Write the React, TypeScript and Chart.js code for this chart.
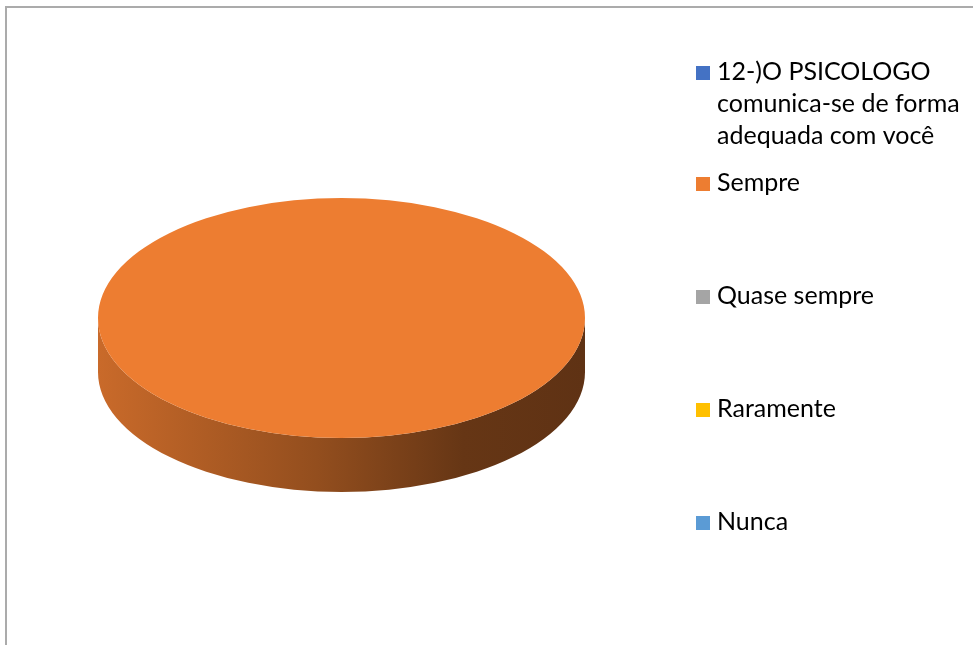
import { useEffect, useRef } from "react";
import { Chart, registerables } from "chart.js";

Chart.register(...registerables);

// ---- data ----
const categories: string[] = [
  "12-)O PSICOLOGO comunica-se de forma adequada com você",
  "Sempre",
  "Quase sempre",
  "Raramente",
  "Nunca",
];
const values: number[] = [0, 100, 0, 0, 0];
const colors: string[] = ["#4472C4", "#ED7D31", "#A5A5A5", "#FFC000", "#5B9BD5"];

// ---- style constants ----
const W = 973;
const H = 645;
const TILT = 120 / 243.5;
const DEPTH = 54;
const FONT = '25px "Lato", "Open Sans", sans-serif';

function shade(hex: string, f: number): string {
  const n = parseInt(hex.slice(1), 16);
  const r = Math.round(((n >> 16) & 255) * f);
  const g = Math.round(((n >> 8) & 255) * f);
  const b = Math.round((n & 255) * f);
  return `rgb(${r},${g},${b})`;
}

const pie3d = {
  id: "pie3d",
  beforeDatasetsDraw(chart: any) {
    const ctx: CanvasRenderingContext2D = chart.ctx;
    const meta = chart.getDatasetMeta(0);
    let cx = 0;
    let cy = 0;
    meta.data.forEach((arc: any, i: number) => {
      const p = arc.getProps(["x", "y", "outerRadius", "startAngle", "endAngle"], true);
      cx = p.x;
      cy = p.y;
      if (p.endAngle - p.startAngle <= 0) return;
      const rx = p.outerRadius;
      const ry = p.outerRadius * TILT;
      const base = colors[i % colors.length];
      const grad = ctx.createLinearGradient(p.x - rx, 0, p.x + rx, 0);
      grad.addColorStop(0, shade(base, 0.85));
      grad.addColorStop(0.45, shade(base, 0.62));
      grad.addColorStop(0.75, shade(base, 0.43));
      grad.addColorStop(1, shade(base, 0.4));
      for (let k = -1; k <= 2; k++) {
        const lo = Math.max(p.startAngle, 2 * Math.PI * k);
        const hi = Math.min(p.endAngle, 2 * Math.PI * k + Math.PI);
        if (hi <= lo) continue;
        ctx.beginPath();
        ctx.ellipse(p.x, p.y + DEPTH, rx, ry, 0, lo, hi, false);
        ctx.ellipse(p.x, p.y, rx, ry, 0, hi, lo, true);
        ctx.closePath();
        ctx.fillStyle = grad;
        ctx.fill();
      }
    });
    ctx.save();
    ctx.translate(cx, cy);
    ctx.scale(1, TILT);
    ctx.translate(-cx, -cy);
  },
  afterDatasetsDraw(chart: any) {
    chart.ctx.restore();
  },
  afterDraw(chart: any) {
    const ctx: CanvasRenderingContext2D = chart.ctx;
    ctx.save();
    // chart frame
    ctx.strokeStyle = "#ababab";
    ctx.lineWidth = 2;
    ctx.strokeRect(6, 7, W + 20, H + 20);
    // legend
    ctx.font = FONT;
    ctx.textBaseline = "middle";
    ctx.textAlign = "left";
    const textX = 717;
    const boxX = 696;
    const box = 14;
    const lineH = 32;
    const maxW = 252;
    categories.forEach((label, i) => {
      const words = label.split(" ");
      const lines: string[] = [];
      let cur = "";
      words.forEach((w) => {
        const test = cur ? cur + " " + w : w;
        if (ctx.measureText(test).width > maxW && cur) {
          lines.push(cur);
          cur = w;
        } else cur = test;
      });
      if (cur) lines.push(cur);
      const yc = i === 0 ? 72 : 183 + (i - 1) * 113;
      ctx.fillStyle = colors[i % colors.length];
      ctx.fillRect(boxX, yc - box / 2 + 1, box, box);
      ctx.fillStyle = "#000000";
      lines.forEach((ln, j) => ctx.fillText(ln, textX, yc + j * lineH));
    });
    ctx.restore();
  },
};

export default function App() {
  const ref = useRef<HTMLCanvasElement | null>(null);
  useEffect(() => {
    if (!ref.current) return;
    const chart = new Chart(ref.current, {
      type: "pie",
      data: {
        labels: categories,
        datasets: [
          {
            data: values,
            backgroundColor: colors,
            borderWidth: 0,
            hoverOffset: 0,
            offset: 0,
          } as any,
        ],
      },
      options: {
        responsive: false,
        animation: false,
        events: [],
        layout: { padding: { left: 98, right: 388, top: 74.5, bottom: 83.5 } },
        plugins: {
          legend: { display: false },
          tooltip: { enabled: false },
          title: { display: false },
        },
      },
      plugins: [pie3d],
    });
    return () => chart.destroy();
  }, []);
  return (
    <div style={{ position: "absolute", left: 0, top: 0, width: W, height: H, background: "#fff" }}>
      <canvas ref={ref} width={W} height={H} style={{ display: "block" }} />
    </div>
  );
}
